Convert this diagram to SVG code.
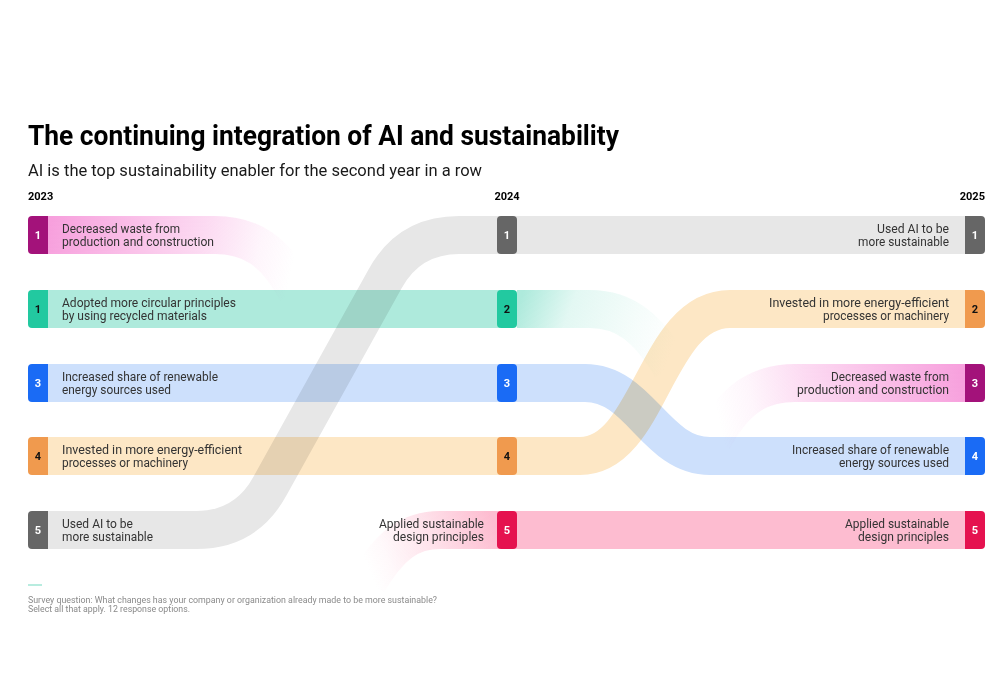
<svg xmlns="http://www.w3.org/2000/svg" width="1000" height="700" viewBox="0 0 1000 700">
<style>
text{font-family:Roboto,"Liberation Sans",sans-serif}
.title{font-size:28px;font-weight:700;fill:#000}
.sub{font-size:16px;fill:#1a1a1a}
.year{font-size:11px;font-weight:700;fill:#000}
.lbl{font-size:12px;fill:#333}
.r{text-anchor:end}
.num{font-size:11px;font-weight:700;text-anchor:middle}
.w{fill:#fff}
.k{fill:#111}
.band{mix-blend-mode:multiply;fill:none;stroke-width:38}
.foot{font-size:8.5px;fill:#8a8a8a}
</style>
<defs>
<linearGradient id="gPinkL" gradientUnits="userSpaceOnUse" x1="48" y1="235" x2="297" y2="292">
<stop offset="0" stop-color="#f7a0dd" stop-opacity="1"/>
<stop offset="0.6" stop-color="#f7a0dd" stop-opacity="0.38"/>
<stop offset="0.82" stop-color="#f7a0dd" stop-opacity="0.1"/>
<stop offset="0.96" stop-color="#f7a0dd" stop-opacity="0"/>
</linearGradient>
<linearGradient id="gPinkR" gradientUnits="userSpaceOnUse" x1="965" y1="383" x2="713" y2="440">
<stop offset="0" stop-color="#f7a0dd" stop-opacity="1"/>
<stop offset="0.6" stop-color="#f7a0dd" stop-opacity="0.38"/>
<stop offset="0.82" stop-color="#f7a0dd" stop-opacity="0.1"/>
<stop offset="0.96" stop-color="#f7a0dd" stop-opacity="0"/>
</linearGradient>
<linearGradient id="gApplied" gradientUnits="userSpaceOnUse" x1="497" y1="530" x2="368" y2="582">
<stop offset="0" stop-color="#fdbcd0" stop-opacity="1"/>
<stop offset="0.45" stop-color="#fdbcd0" stop-opacity="0.45"/>
<stop offset="0.8" stop-color="#fdbcd0" stop-opacity="0.1"/>
<stop offset="0.96" stop-color="#fdbcd0" stop-opacity="0"/>
</linearGradient>
<linearGradient id="gTeal" gradientUnits="userSpaceOnUse" x1="517" y1="309" x2="672" y2="368">
<stop offset="0" stop-color="#aeeadc" stop-opacity="1"/>
<stop offset="0.3" stop-color="#aeeadc" stop-opacity="0.35"/>
<stop offset="0.7" stop-color="#aeeadc" stop-opacity="0.12"/>
<stop offset="0.96" stop-color="#aeeadc" stop-opacity="0"/>
</linearGradient>
</defs>
<rect width="1000" height="700" fill="#fff"/>

<text class="title" x="28" y="145" textLength="591" lengthAdjust="spacingAndGlyphs">The continuing integration of AI and sustainability</text>
<text class="sub" x="28" y="176" textLength="454" lengthAdjust="spacingAndGlyphs">AI is the top sustainability enabler for the second year in a row</text>
<text class="year" x="28" y="200">2023</text>
<text class="year" x="507" y="200" text-anchor="middle">2024</text>
<text class="year" x="985" y="200" text-anchor="end">2025</text>

<g id="connectors">
<path class="band" stroke="url(#gPinkL)" d="M 40 235 H 215 C 250 235 275 250 297 292"/>
<path class="band" stroke="#aeeadc" d="M 40 309 H 500"/>
<path class="band" stroke="#cde0fc" d="M 40 383 H 500"/>
<path class="band" stroke="#fde7c5" d="M 40 456 H 500"/>
<path class="band" stroke="#e7e7e7" d="M 40 530 H 196 Q 246 530 270 486 L 385 279 Q 409 235 459 235 H 980"/>
<path class="band" stroke="url(#gApplied)" d="M 500 530 H 440 C 410 530 390 545 368 582"/>
<path class="band" stroke="#fdbcd0" d="M 510 530 H 980"/>
<path class="band" stroke="url(#gTeal)" d="M 517 309 H 590 C 625 309 648 328 672 368"/>
<path class="band" stroke="#fde7c5" d="M 510 456 H 580 C 650 456 655 309 730 309 H 980"/>
<path class="band" stroke="#cde0fc" d="M 510 383 H 585 C 640 383 655 456 710 456 H 980"/>
<path class="band" stroke="url(#gPinkR)" d="M 972 383 H 795 C 760 383 735 398 713 440"/>
</g>

<g id="n2023-1">
<path fill="#a3127a" d="M 32 216 H 48 V 254 H 32 Q 28 254 28 250 V 220 Q 28 216 32 216 Z"/>
<text class="num w" x="38" y="239">1</text>
<text class="lbl" x="62" y="233" textLength="118" lengthAdjust="spacingAndGlyphs">Decreased waste from</text>
<text class="lbl" x="62" y="246" textLength="152" lengthAdjust="spacingAndGlyphs">production and construction</text>
</g>
<g id="n2023-2">
<path fill="#22c9a0" d="M 32 290 H 48 V 328 H 32 Q 28 328 28 324 V 294 Q 28 290 32 290 Z"/>
<text class="num k" x="38" y="313">1</text>
<text class="lbl" x="62" y="307" textLength="174" lengthAdjust="spacingAndGlyphs">Adopted more circular principles</text>
<text class="lbl" x="62" y="320" textLength="145" lengthAdjust="spacingAndGlyphs">by using recycled materials</text>
</g>
<g id="n2023-3">
<path fill="#1a6bf5" d="M 32 364 H 48 V 402 H 32 Q 28 402 28 398 V 368 Q 28 364 32 364 Z"/>
<text class="num w" x="38" y="387">3</text>
<text class="lbl" x="62" y="381" textLength="156" lengthAdjust="spacingAndGlyphs">Increased share of renewable</text>
<text class="lbl" x="62" y="394" textLength="109" lengthAdjust="spacingAndGlyphs">energy sources used</text>
</g>
<g id="n2023-4">
<path fill="#f09a4e" d="M 32 437 H 48 V 475 H 32 Q 28 475 28 471 V 441 Q 28 437 32 437 Z"/>
<text class="num k" x="38" y="460">4</text>
<text class="lbl" x="62" y="454" textLength="180" lengthAdjust="spacingAndGlyphs">Invested in more energy-efficient</text>
<text class="lbl" x="62" y="467" textLength="126" lengthAdjust="spacingAndGlyphs">processes or machinery</text>
</g>
<g id="n2023-5">
<path fill="#666666" d="M 32 511 H 48 V 549 H 32 Q 28 549 28 545 V 515 Q 28 511 32 511 Z"/>
<text class="num w" x="38" y="534">5</text>
<text class="lbl" x="62" y="528" textLength="71" lengthAdjust="spacingAndGlyphs">Used AI to be</text>
<text class="lbl" x="62" y="541" textLength="91" lengthAdjust="spacingAndGlyphs">more sustainable</text>
</g>

<g id="n2024-1">
<rect x="497" y="216" width="20" height="38" rx="4" fill="#666666"/>
<text class="num w" x="507" y="239">1</text>
</g>
<g id="n2024-2">
<rect x="497" y="290" width="20" height="38" rx="4" fill="#22c9a0"/>
<text class="num k" x="507" y="313">2</text>
</g>
<g id="n2024-3">
<rect x="497" y="364" width="20" height="38" rx="4" fill="#1a6bf5"/>
<text class="num w" x="507" y="387">3</text>
</g>
<g id="n2024-4">
<rect x="497" y="437" width="20" height="38" rx="4" fill="#f09a4e"/>
<text class="num k" x="507" y="460">4</text>
</g>
<g id="n2024-5">
<rect x="497" y="511" width="20" height="38" rx="4" fill="#e5124f"/>
<text class="num w" x="507" y="534">5</text>
<text class="lbl r" x="484" y="528" textLength="105" lengthAdjust="spacingAndGlyphs">Applied sustainable</text>
<text class="lbl r" x="484" y="541" textLength="91" lengthAdjust="spacingAndGlyphs">design principles</text>
</g>

<g id="n2025-1">
<path fill="#666666" d="M 965 216 H 981 Q 985 216 985 220 V 250 Q 985 254 981 254 H 965 Z"/>
<text class="num w" x="975" y="239">1</text>
<text class="lbl r" x="949" y="233" textLength="72" lengthAdjust="spacingAndGlyphs">Used AI to be</text>
<text class="lbl r" x="949" y="246" textLength="91" lengthAdjust="spacingAndGlyphs">more sustainable</text>
</g>
<g id="n2025-2">
<path fill="#f09a4e" d="M 965 290 H 981 Q 985 290 985 294 V 324 Q 985 328 981 328 H 965 Z"/>
<text class="num k" x="975" y="313">2</text>
<text class="lbl r" x="949" y="307" textLength="180" lengthAdjust="spacingAndGlyphs">Invested in more energy-efficient</text>
<text class="lbl r" x="949" y="320" textLength="126" lengthAdjust="spacingAndGlyphs">processes or machinery</text>
</g>
<g id="n2025-3">
<path fill="#a3127a" d="M 965 364 H 981 Q 985 364 985 368 V 398 Q 985 402 981 402 H 965 Z"/>
<text class="num w" x="975" y="387">3</text>
<text class="lbl r" x="949" y="381" textLength="118" lengthAdjust="spacingAndGlyphs">Decreased waste from</text>
<text class="lbl r" x="949" y="394" textLength="152" lengthAdjust="spacingAndGlyphs">production and construction</text>
</g>
<g id="n2025-4">
<path fill="#1a6bf5" d="M 965 437 H 981 Q 985 437 985 441 V 471 Q 985 475 981 475 H 965 Z"/>
<text class="num w" x="975" y="460">4</text>
<text class="lbl r" x="949" y="454" textLength="157" lengthAdjust="spacingAndGlyphs">Increased share of renewable</text>
<text class="lbl r" x="949" y="467" textLength="110" lengthAdjust="spacingAndGlyphs">energy sources used</text>
</g>
<g id="n2025-5">
<path fill="#e5124f" d="M 965 511 H 981 Q 985 511 985 515 V 545 Q 985 549 981 549 H 965 Z"/>
<text class="num w" x="975" y="534">5</text>
<text class="lbl r" x="949" y="528" textLength="104" lengthAdjust="spacingAndGlyphs">Applied sustainable</text>
<text class="lbl r" x="949" y="541" textLength="91" lengthAdjust="spacingAndGlyphs">design principles</text>
</g>

<g id="footnote">
<line x1="28" y1="585" x2="42" y2="585" stroke="#a0e6d4" stroke-width="1.5"/>
<text class="foot" x="28" y="603" textLength="409" lengthAdjust="spacingAndGlyphs">Survey question: What changes has your company or organization already made to be more sustainable?</text>
<text class="foot" x="28" y="612" textLength="162" lengthAdjust="spacingAndGlyphs">Select all that apply. 12 response options.</text>
</g>
</svg>
